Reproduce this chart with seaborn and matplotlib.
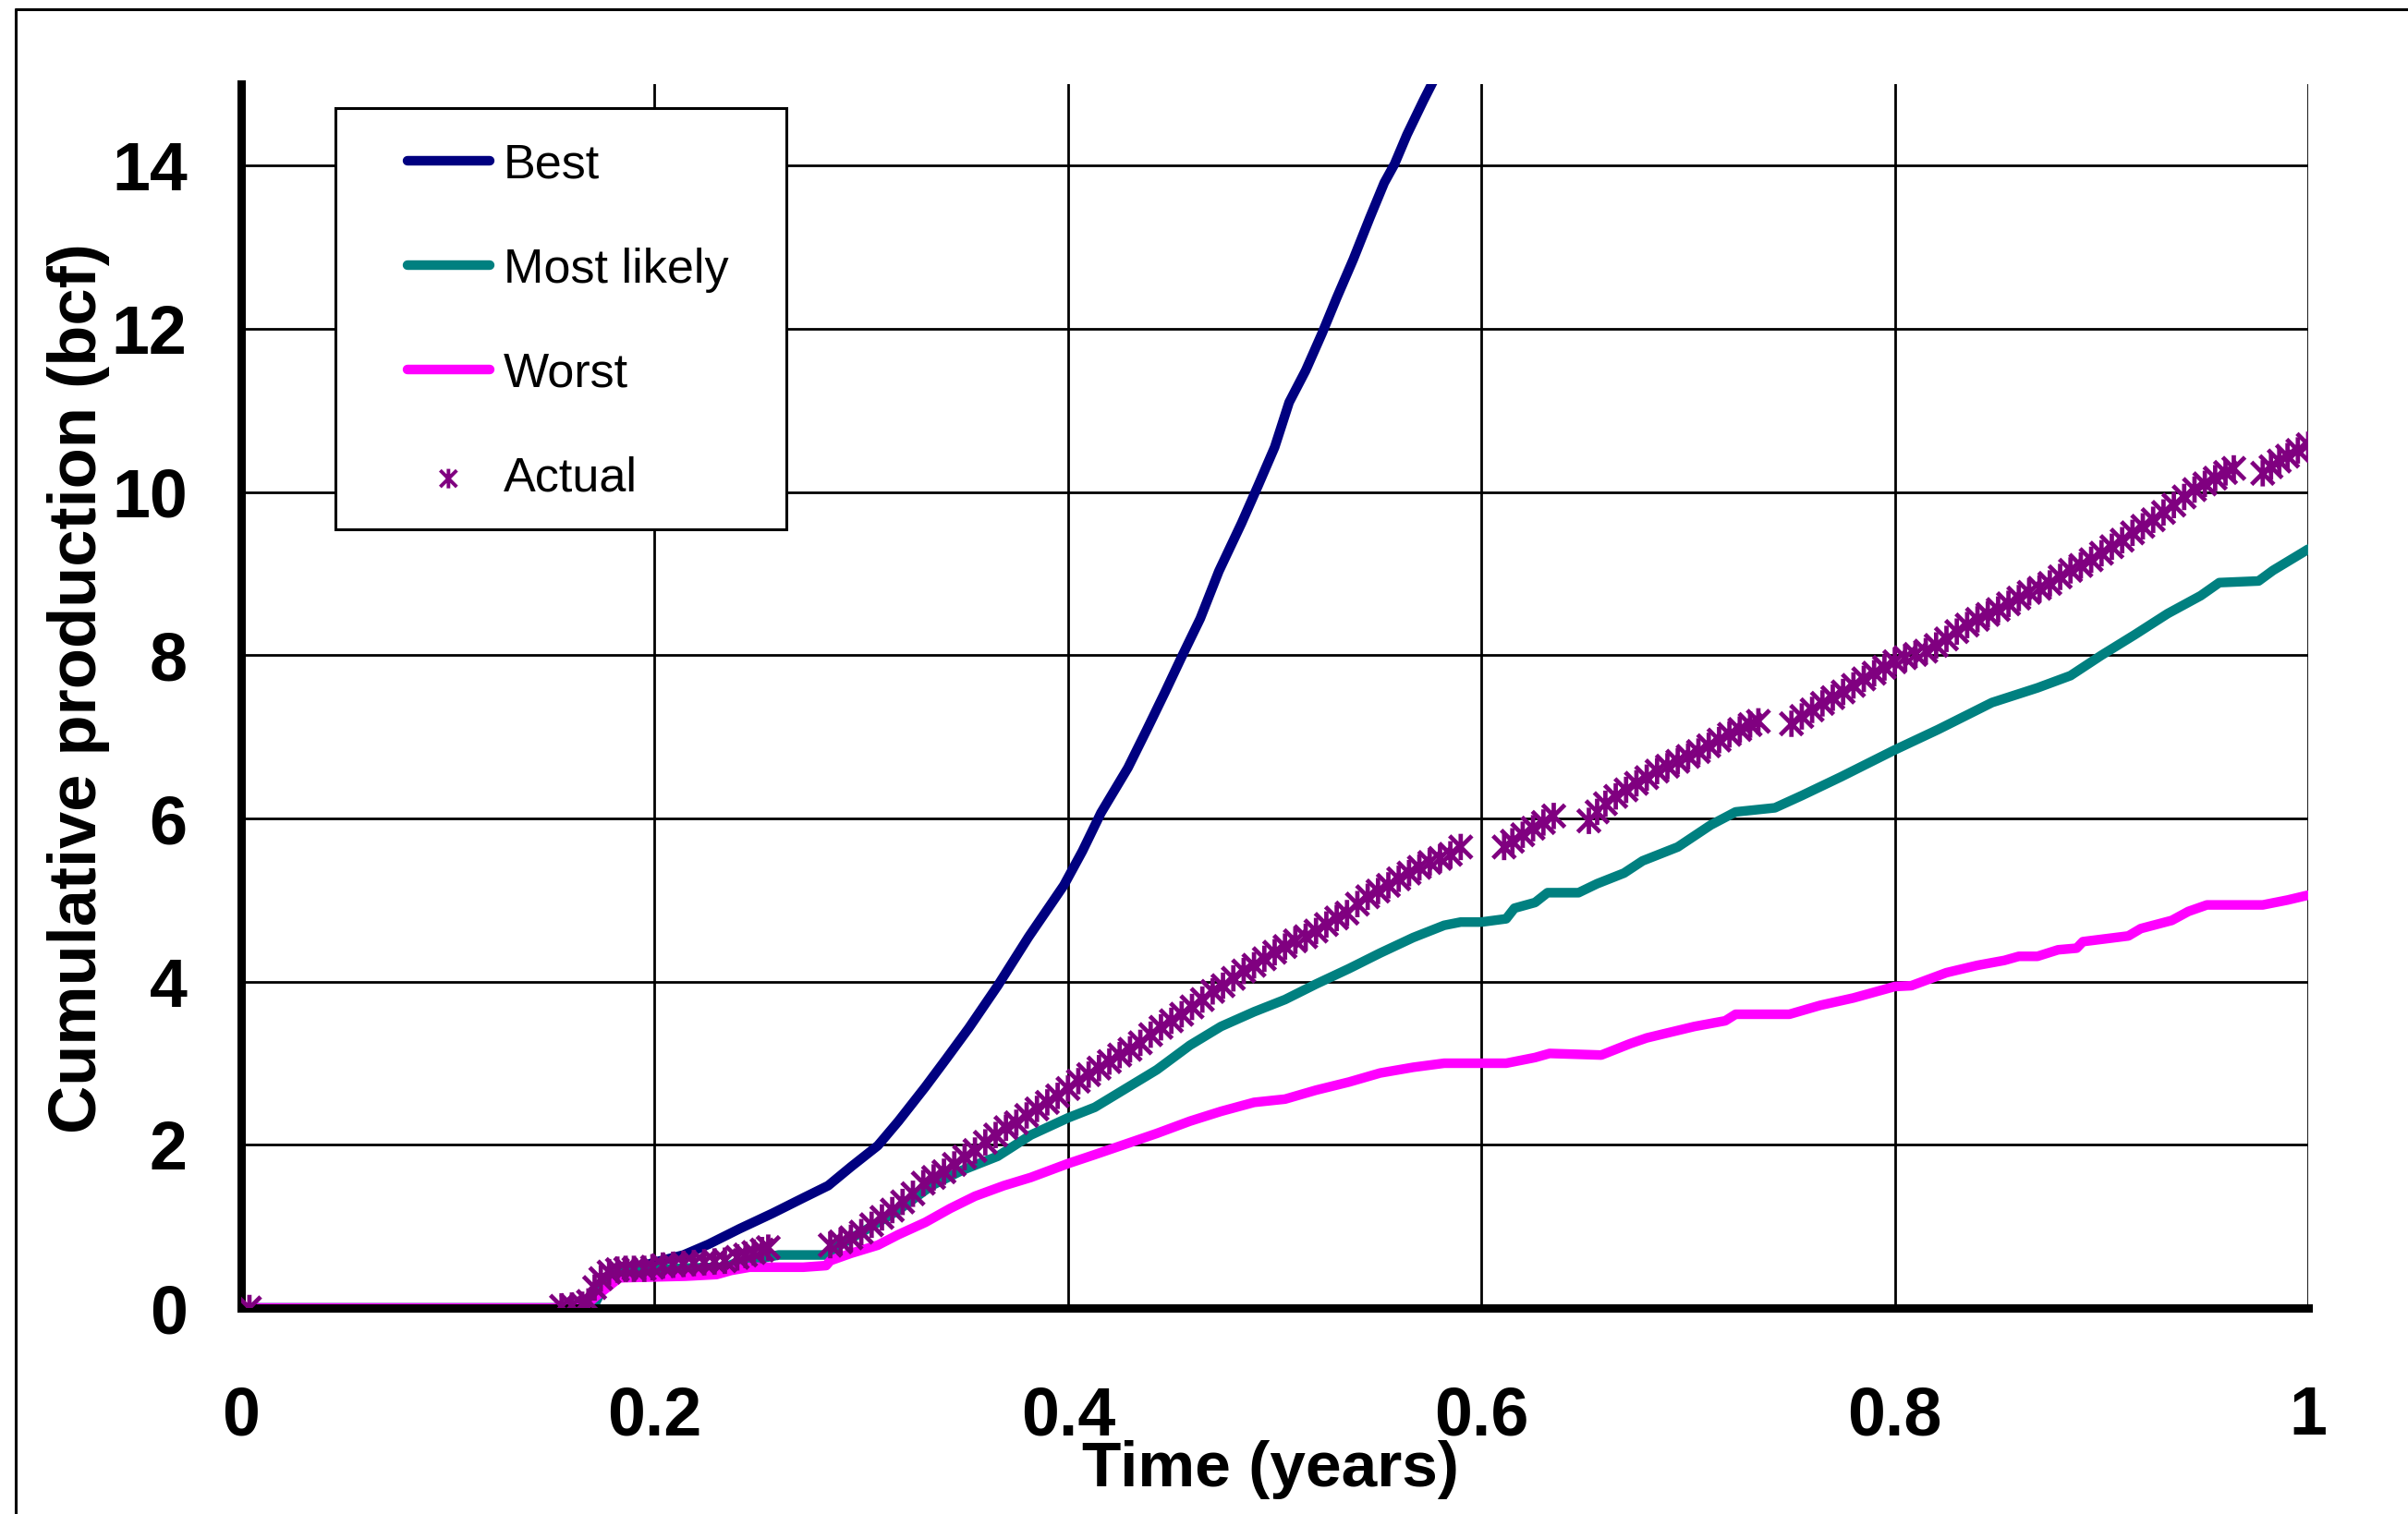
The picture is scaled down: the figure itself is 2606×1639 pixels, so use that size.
import numpy as np
import matplotlib
matplotlib.use("Agg")
import matplotlib.pyplot as plt
import seaborn as sns
from matplotlib.path import Path
from matplotlib.markers import MarkerStyle
from matplotlib.patches import Rectangle
from matplotlib.lines import Line2D

# ---------------- data ----------------
best_t = [0.0, 0.170, 0.175, 0.180, 0.190, 0.200, 0.214, 0.226, 0.241, 0.257, 0.272, 0.284,
          0.295, 0.308, 0.318, 0.331, 0.341, 0.352, 0.366, 0.381, 0.398, 0.407, 0.416,
          0.429, 0.438, 0.447, 0.455, 0.464, 0.473, 0.484, 0.492, 0.500, 0.507, 0.515,
          0.523, 0.530, 0.538, 0.546, 0.553, 0.558, 0.564, 0.572, 0.578]
best_v = [0.0, 0.0, 0.25, 0.40, 0.48, 0.56, 0.65, 0.78, 0.97, 1.16, 1.35, 1.50,
          1.73, 1.99, 2.29, 2.71, 3.05, 3.43, 3.95, 4.55, 5.18, 5.60, 6.07,
          6.62, 7.08, 7.55, 7.98, 8.45, 9.03, 9.62, 10.08, 10.55, 11.10, 11.49,
          11.95, 12.38, 12.85, 13.36, 13.79, 14.02, 14.38, 14.80, 15.10]

likely_t = [0.0, 0.170, 0.175, 0.180, 0.190, 0.200, 0.215, 0.234, 0.240, 0.254, 0.260, 0.283,
            0.288, 0.303, 0.318, 0.334, 0.349, 0.366, 0.382, 0.400, 0.413, 0.428, 0.443,
            0.459, 0.474, 0.490, 0.505, 0.520, 0.536, 0.551, 0.567, 0.582, 0.590, 0.600,
            0.612, 0.616, 0.626, 0.632, 0.647, 0.656, 0.669, 0.678, 0.695, 0.711, 0.723,
            0.742, 0.755, 0.774, 0.800, 0.821, 0.847, 0.869, 0.885, 0.900, 0.916, 0.932,
            0.948, 0.957, 0.976, 0.983, 1.000]
likely_v = [0.0, 0.0, 0.25, 0.40, 0.46, 0.47, 0.49, 0.50, 0.56, 0.62, 0.65, 0.65,
            0.75, 0.97, 1.20, 1.50, 1.69, 1.86, 2.12, 2.33, 2.46, 2.69, 2.92,
            3.22, 3.45, 3.63, 3.78, 3.97, 4.16, 4.35, 4.54, 4.69, 4.73, 4.73,
            4.77, 4.90, 4.97, 5.09, 5.09, 5.20, 5.33, 5.48, 5.65, 5.92, 6.08,
            6.13, 6.28, 6.51, 6.84, 7.09, 7.42, 7.60, 7.75, 8.00, 8.25, 8.51,
            8.73, 8.89, 8.91, 9.04, 9.30]

worst_t = [0.0, 0.165, 0.172, 0.183, 0.215, 0.230, 0.237, 0.246, 0.272, 0.283, 0.285, 0.295,
           0.308, 0.318, 0.331, 0.343, 0.355, 0.369, 0.382, 0.400, 0.413, 0.428, 0.443,
           0.459, 0.474, 0.490, 0.505, 0.520, 0.536, 0.551, 0.567, 0.582, 0.612, 0.626,
           0.633, 0.658, 0.672, 0.680, 0.703, 0.718, 0.723, 0.749, 0.764, 0.780, 0.800,
           0.808, 0.825, 0.840, 0.853, 0.860, 0.869, 0.879, 0.888, 0.891, 0.913, 0.919,
           0.934, 0.942, 0.951, 0.978, 0.990, 1.000]
worst_v = [0.0, 0.0, 0.15, 0.37, 0.39, 0.41, 0.46, 0.50, 0.50, 0.52, 0.58, 0.67,
           0.77, 0.90, 1.05, 1.22, 1.37, 1.50, 1.60, 1.77, 1.88, 2.01, 2.14,
           2.29, 2.41, 2.52, 2.56, 2.67, 2.77, 2.88, 2.95, 3.00, 3.00, 3.07,
           3.12, 3.10, 3.24, 3.31, 3.45, 3.52, 3.60, 3.60, 3.71, 3.80, 3.94,
           3.95, 4.11, 4.20, 4.26, 4.31, 4.31, 4.39, 4.41, 4.49, 4.56, 4.65,
           4.75, 4.86, 4.94, 4.94, 5.00, 5.06]

actual_t = [0.004,
            0.155, 0.160, 0.165, 0.168, 0.171, 0.174, 0.178, 0.182, 0.186, 0.190, 0.195,
            0.199, 0.204, 0.209, 0.214, 0.219, 0.224, 0.229, 0.234, 0.240, 0.244, 0.248,
            0.252, 0.255,
            0.285, 0.290, 0.295, 0.300, 0.305, 0.310, 0.315, 0.320, 0.325, 0.330, 0.335,
            0.340, 0.345, 0.350, 0.355, 0.360, 0.365, 0.370, 0.375, 0.380, 0.385, 0.390,
            0.395, 0.400, 0.405, 0.410, 0.415, 0.420, 0.425, 0.430, 0.435, 0.440, 0.445,
            0.450, 0.455, 0.460, 0.465, 0.470, 0.475, 0.480, 0.485, 0.490, 0.495, 0.500,
            0.505, 0.510, 0.515, 0.520, 0.525, 0.530, 0.535, 0.540, 0.545, 0.550, 0.555,
            0.560, 0.565, 0.570, 0.575, 0.580, 0.585, 0.590,
            0.611, 0.615, 0.620, 0.625, 0.630, 0.635,
            0.652, 0.656, 0.660, 0.665, 0.670, 0.675, 0.680, 0.685, 0.690, 0.695, 0.700,
            0.705, 0.710, 0.715, 0.720, 0.725, 0.730, 0.734,
            0.750, 0.755, 0.760, 0.765, 0.770, 0.775, 0.780, 0.785, 0.790, 0.795, 0.800,
            0.805, 0.810, 0.815, 0.820, 0.825, 0.830, 0.835, 0.840, 0.845, 0.850, 0.855,
            0.860, 0.865, 0.870, 0.875, 0.880, 0.885, 0.890, 0.895, 0.900, 0.905, 0.910,
            0.915, 0.920, 0.925, 0.930, 0.935, 0.940, 0.945, 0.950, 0.955, 0.960, 0.964,
            0.978, 0.982, 0.986, 0.990, 0.995, 1.000]
actual_v = [0.0,
            0.02, 0.03, 0.04, 0.08, 0.25, 0.36, 0.44, 0.47, 0.48, 0.48, 0.48,
            0.50, 0.52, 0.53, 0.54, 0.55, 0.56, 0.57, 0.58, 0.62, 0.65, 0.68,
            0.71, 0.74,
            0.77, 0.81, 0.86, 0.93, 1.02, 1.11, 1.20, 1.30, 1.40, 1.53, 1.60,
            1.67, 1.76, 1.85, 1.93, 2.03, 2.12, 2.21, 2.27, 2.36, 2.44, 2.52,
            2.60, 2.69, 2.78, 2.86, 2.94, 3.02, 3.10, 3.17, 3.25, 3.35, 3.44,
            3.52, 3.60, 3.69, 3.78, 3.88, 3.95, 4.04, 4.13, 4.20, 4.28, 4.36,
            4.43, 4.50, 4.55, 4.62, 4.70, 4.78, 4.84, 4.95, 5.04, 5.11, 5.18,
            5.26, 5.33, 5.40, 5.46, 5.51, 5.56, 5.65,
            5.65, 5.72, 5.80, 5.88, 5.95, 6.03,
            5.97, 6.08, 6.18, 6.27, 6.35, 6.43, 6.50, 6.58, 6.64, 6.70, 6.76,
            6.82, 6.89, 6.96, 7.03, 7.09, 7.15, 7.19,
            7.16, 7.25, 7.33, 7.41, 7.48, 7.55, 7.63, 7.71, 7.78, 7.85, 7.92,
            7.97, 8.01, 8.05, 8.12, 8.20, 8.29, 8.37, 8.44, 8.50, 8.56, 8.63,
            8.70, 8.77, 8.82, 8.88, 8.96, 9.04, 9.10, 9.17, 9.25, 9.33, 9.41,
            9.50, 9.58, 9.66, 9.75, 9.84, 9.94, 10.03, 10.10, 10.17, 10.24, 10.29,
            10.23, 10.31, 10.38, 10.44, 10.51, 10.58]

series_names = ["Best", "Most likely", "Worst", "Actual"]
x_ticks = [0, 0.2, 0.4, 0.6, 0.8, 1.0]
x_tick_labels = ["0", "0.2", "0.4", "0.6", "0.8", "1"]
y_ticks = [0, 2, 4, 6, 8, 10, 12, 14]
y_tick_labels = ["0", "2", "4", "6", "8", "10", "12", "14"]

# ---------------- style ----------------
sns.set_theme(style="white")
plt.rcParams['font.family'] = ['Liberation Sans', 'DejaVu Sans']

W, H = 2606, 1639
fig = plt.figure(figsize=(W / 100, H / 100), dpi=100)
fig.patch.set_facecolor("white")
ax = fig.add_axes([261 / W, 1 - 1416 / H, 2237 / W, 1325 / H])
ax.set_facecolor("white")

c_best, c_likely, c_worst, c_actual = "#000080", "#008080", "#FF00FF", "#800080"
lw = 7.5

sns.lineplot(x=best_t, y=best_v, ax=ax, sort=False, estimator=None,
             color=c_best, linewidth=lw, label=series_names[0])
sns.lineplot(x=likely_t, y=likely_v, ax=ax, sort=False, estimator=None,
             color=c_likely, linewidth=lw, label=series_names[1])
sns.lineplot(x=worst_t, y=worst_v, ax=ax, sort=False, estimator=None,
             color=c_worst, linewidth=lw, label=series_names[2])

star = Path([(0, -1), (0, 1), (-0.85, -0.85), (0.85, 0.85), (-0.85, 0.85), (0.85, -0.85)],
            [Path.MOVETO, Path.LINETO, Path.MOVETO, Path.LINETO, Path.MOVETO, Path.LINETO])
sns.scatterplot(x=actual_t, y=actual_v, ax=ax, marker=star, s=420,
                facecolor="none", edgecolor=c_actual,
                linewidth=3.4, label=series_names[3], zorder=3)

ax.set_xlim(0, 1)
ax.set_ylim(0, 15)
ax.set_xticks(x_ticks)
ax.set_xticklabels(x_tick_labels)
ax.set_yticks(y_ticks)
ax.set_yticklabels(y_tick_labels)

ax.set_axisbelow(True)
ax.grid(True, color="black", lw=2.0)
for s in ["top", "right"]:
    ax.spines[s].set_visible(False)
for s in ["left", "bottom"]:
    ax.spines[s].set_color("black")
    ax.spines[s].set_linewidth(6.5)
    ax.spines[s].set_zorder(2.5)

ax.tick_params(axis="both", which="major", direction="in", length=14, width=6,
               color="black", labelcolor="black", labelsize=53)
ax.tick_params(axis="x", pad=60)
ax.tick_params(axis="y", pad=42)
for lab in ax.get_xticklabels() + ax.get_yticklabels():
    lab.set_fontweight("bold")

ax.set_xlabel("Time (years)", fontsize=50, fontweight="bold", color="black")
ax.xaxis.set_label_coords(0.498, -0.1457)
ax.xaxis.label.set_va("baseline")
ax.set_ylabel("Cumulative production (bcf)", fontsize=52, fontweight="bold", color="black")
ax.yaxis.set_label_coords(-0.0787, 0.506)
ax.yaxis.label.set_va("center")

# legend box
box = Rectangle((0.0456, 0.6362), 0.2181, 0.3442, transform=ax.transAxes,
                facecolor="white", edgecolor="black", lw=2.2, zorder=4)
ax.add_patch(box)
handles, labels = ax.get_legend_handles_labels()
leg = ax.legend(handles, labels, loc="upper left", bbox_to_anchor=(0.0805, 0.952),
                frameon=False, borderpad=0, borderaxespad=0, handlelength=1.7,
                handletextpad=0.3, labelspacing=1.23, fontsize=37.5, scatterpoints=1)
leg.set_zorder(5)
for t in leg.get_texts():
    t.set_color("black")
for h in leg.legend_handles:
    if isinstance(h, Line2D):
        h.set_linewidth(7.5)
    else:
        h.set_sizes([230])
        h.set_linewidth(2.8)

# outer frame (left and top edges)
fx, fy = 17 / W, 1 - 10 / H
fig.add_artist(Line2D([fx, fx], [0, fy], transform=fig.transFigure, color="black", lw=2.2))
fig.add_artist(Line2D([fx, 1], [fy, fy], transform=fig.transFigure, color="black", lw=2.2))

fig.savefig("out.png", dpi=100, facecolor="white")
